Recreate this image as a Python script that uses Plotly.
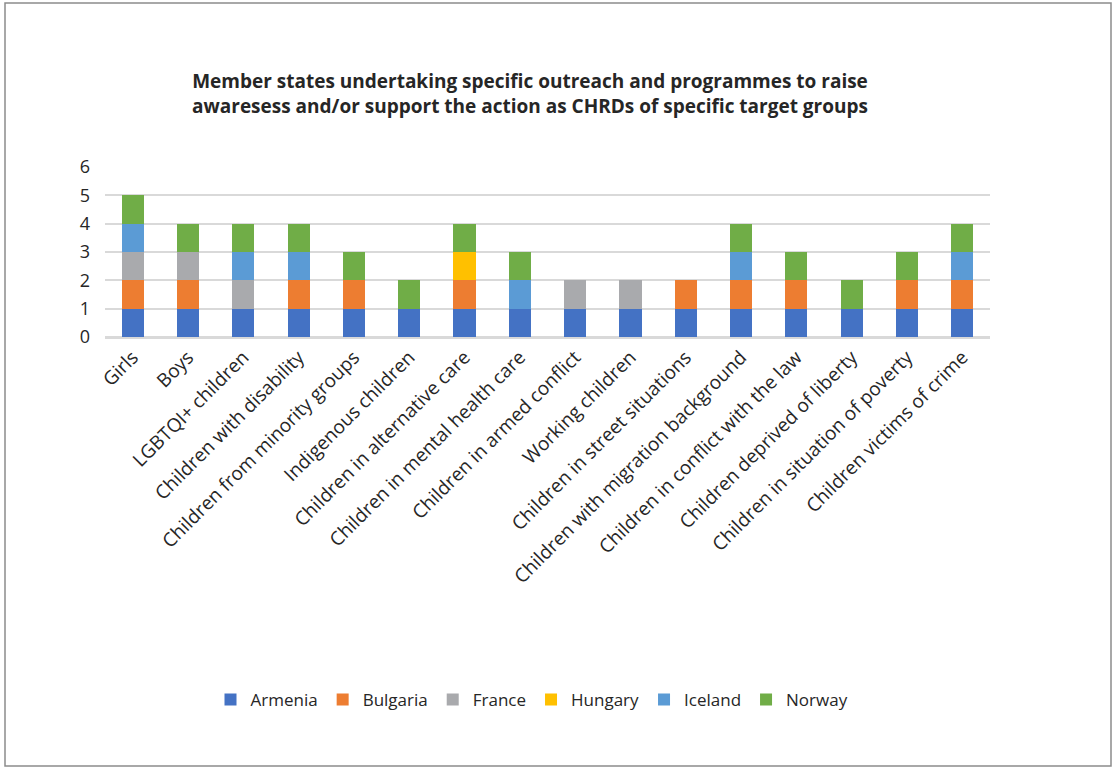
import plotly.graph_objects as go

categories = ["Girls", "Boys", "LGBTQI+ children", "Children with disability",
              "Children from minority groups", "Indigenous children",
              "Children in alternative care", "Children in mental health care",
              "Children in armed conflict", "Working children",
              "Children in street situations", "Children with migration background",
              "Children in conflict with the law", "Children deprived of liberty",
              "Children in situation of poverty", "Children victims of crime"]

armenia  = [1, 1, 1, 1, 1, 1, 1, 1, 1, 1, 1, 1, 1, 1, 1, 1]
bulgaria = [1, 1, 0, 1, 1, 0, 1, 0, 0, 0, 1, 1, 1, 0, 1, 1]
france   = [1, 1, 1, 0, 0, 0, 0, 0, 1, 1, 0, 0, 0, 0, 0, 0]
hungary  = [0, 0, 0, 0, 0, 0, 1, 0, 0, 0, 0, 0, 0, 0, 0, 0]
iceland  = [1, 0, 1, 1, 0, 0, 0, 1, 0, 0, 0, 1, 0, 0, 0, 1]
norway   = [1, 1, 1, 1, 1, 1, 1, 1, 0, 0, 0, 1, 1, 1, 1, 1]

series = [("Armenia", armenia, "#4472C4"), ("Bulgaria", bulgaria, "#ED7D31"),
          ("France", france, "#A9AAAD"), ("Hungary", hungary, "#FFC000"),
          ("Iceland", iceland, "#5B9BD5"), ("Norway", norway, "#70AD47")]

title_text = ("Member states undertaking specific outreach and programmes to raise<br>"
              "awaresess and/or support the action as CHRDs of specific target groups")

fig = go.Figure()
for name, vals, color in series:
    fig.add_trace(go.Bar(name=name, x=categories, y=vals,
                         marker=dict(color=color, line=dict(width=0))))

W, H = 1113, 767
L, R, T, B = 105, 123, 167, 430
pw, ph = W - L - R, H - T - B

def px(x):
    return (x - L) / pw

def py(y):
    return (H - B - y) / ph

fig.update_layout(
    barmode="stack", bargap=0.6,
    width=W, height=H,
    margin=dict(l=L, r=R, t=T, b=B, autoexpand=False),
    paper_bgcolor="white", plot_bgcolor="white",
    font=dict(family="Open Sans", color="#262626", size=16),
    title=dict(text="<b>" + title_text + "</b>", x=530 / W, xanchor="center",
               y=1 - 88 / H, yanchor="middle", yref="container",
               font=dict(size=19, color="#262626", family="Open Sans")),
    xaxis=dict(tickangle=-45, tickfont=dict(size=19, color="#262626"),
               showgrid=False, showline=True, linecolor="#D9D9D9", linewidth=1.5,
               ticks=""),
    yaxis=dict(range=[0, 6], dtick=1, showgrid=True, gridcolor="#D9D9D9", gridwidth=1.5,
               zeroline=True, zerolinecolor="#D9D9D9", zerolinewidth=1.5,
               tickfont=dict(size=18, color="#262626"), ticks="", ticklen=0,
               ticklabelstandoff=14),
    legend=dict(orientation="h", x=532 / W, xanchor="center", xref="container",
                y=1 - 700 / H, yanchor="middle", yref="container",
                font=dict(size=17, color="#262626"), traceorder="normal",
                itemwidth=30, bgcolor="rgba(0,0,0,0)"),
    shapes=[dict(type="rect", xref="paper", yref="paper",
                 x0=px(5), x1=px(1111), y0=py(766), y1=py(3),
                 line=dict(color="#8C8C8C", width=1.5), layer="below")],
)

fig.write_html("out.html", config={"displayModeBar": False},
               post_script="document.body.style.margin='0';")
